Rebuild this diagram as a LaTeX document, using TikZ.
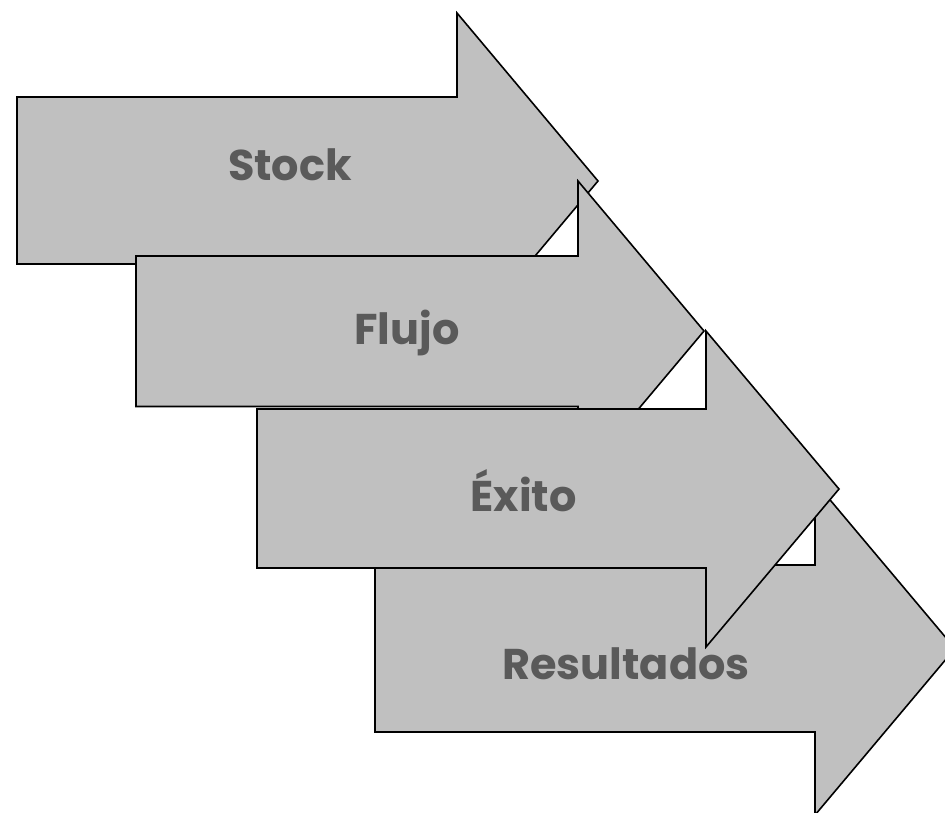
\documentclass[tikz,border=0pt]{standalone}
\usepackage{fontspec}
\setmainfont{Poppins}
\definecolor{arrowfill}{RGB}{192,192,192}
\definecolor{labelgray}{RGB}{90,90,90}
\tikzset{
  bigarrow/.style={fill=arrowfill, draw=black, line width=1.6pt, line join=miter},
  arrowlabel/.style={anchor=base, inner sep=0pt, text=labelgray, font=\fontsize{43}{50}\selectfont\bfseries}
}
\begin{document}
\begin{tikzpicture}[x=1pt,y=-1pt]
\useasboundingbox (0,0) rectangle (945,813);
\clip (0,0) rectangle (945,813);
% Arrow 1: Stock
\draw[bigarrow] (17,97) -- (457,97) -- (457,13) -- (598,181) -- (457,349) -- (457,264) -- (17,264) -- cycle;
% Arrow 2: Flujo
\draw[bigarrow] (136,256) -- (578,256) -- (578,181) -- (704,331) -- (578,481) -- (578,406.5) -- (136,406.5) -- cycle;
% Arrow 4: Resultados (below arrow 3)
\draw[bigarrow] (375,565) -- (815,565) -- (815,482) -- (955,648.5) -- (815,815) -- (815,732) -- (375,732) -- cycle;
% Arrow 3: Exito
\draw[bigarrow] (257,409) -- (706,409) -- (706,331) -- (839,489) -- (706,647) -- (706,568) -- (257,568) -- cycle;
\node[arrowlabel] (stock) at (290,181) {Stock};
\node[arrowlabel] (flujo) at (407,344) {Flujo};
\node[arrowlabel] (exito) at (523.5,511) {Éxito};
\node[arrowlabel] (resultados) at (626,679) {Resultados};
\end{tikzpicture}
\end{document}
